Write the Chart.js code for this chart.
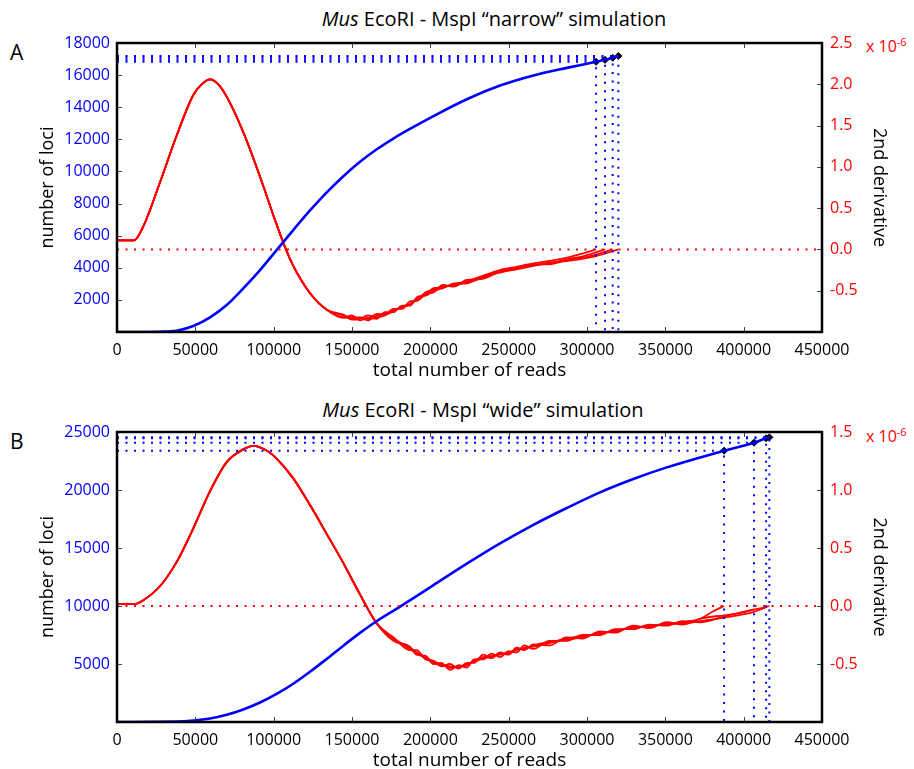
<!DOCTYPE html>
<html>
<head>
<meta charset="utf-8">
<script src="https://cdn.jsdelivr.net/npm/chart.js@4"></script>
<style>
body { margin: 0; background: #fff; width: 914px; height: 769px; overflow: hidden; position: relative; font-family: "Open Sans"; }
canvas { position: absolute; left: 0; }
.title { position: absolute; font-size: 20px; color: #000; white-space: nowrap; transform: translate(-50%, -50%); }
.panel { position: absolute; font-size: 21px; color: #000; }
.exp { position: absolute; color: #f00; font-size: 16px; white-space: nowrap; }
.exp sup { font-size: 11px; }
</style>
</head>
<body>
<div class="title" style="left:494px; top:18px;"><i>Mus</i> EcoRI - MspI “narrow” simulation</div>
<div class="title" style="left:483px; top:409px;"><i>Mus</i> EcoRI - MspI “wide” simulation</div>
<div class="panel" style="left:10px; top:38px;">A</div>
<div class="panel" style="left:10px; top:427px;">B</div>
<div class="exp" style="left:866px; top:34px;">x 10<sup>-6</sup></div>
<div class="exp" style="left:866px; top:424px;">x 10<sup>-6</sup></div>
<canvas id="chartA" width="914" height="385" style="top:0px"></canvas>
<canvas id="chartB" width="914" height="385" style="top:390px"></canvas>
<script>
// ---- panel A: "narrow" simulation ----
var readsA = [0, 27400, 38100, 48700, 59400, 70000, 80600, 91300, 101900, 112500, 123200, 133900, 144500, 155100, 165800, 176400, 187000, 202000, 223300, 244500, 265800, 287100, 305800, 311500, 316400, 320000];
var lociA = [0, 20, 80, 370, 910, 1680, 2720, 3860, 5100, 6350, 7570, 8700, 9700, 10600, 11380, 12050, 12650, 13450, 14500, 15350, 15980, 16450, 16830, 16950, 17080, 17190];

var endReadsA = [305800, 311500, 316400, 320000];
var endLociA = [16830, 16950, 17080, 17190];

// shared start of the 2nd derivative curves (x 1e-6)
var derivHeadA = [[0, 0.11], [10800, 0.11], [16800, 0.28], [27400, 0.81], [38100, 1.38], [48700, 1.87], [54000, 2.0], [59400, 2.06], [64700, 2.0], [70000, 1.85], [80600, 1.42], [91300, 0.88], [101900, 0.30], [107200, 0.03], [112500, -0.2], [123200, -0.53], [133900, -0.73]];
// noisy tails, one per replicate
var derivTailA1 = [[144500, -0.80], [150000, -0.84], [155100, -0.82], [160000, -0.86], [165800, -0.80], [171000, -0.78], [176400, -0.74], [182000, -0.70], [187000, -0.66], [192000, -0.60], [197000, -0.52], [202000, -0.49], [208000, -0.45], [215000, -0.44], [223300, -0.39], [232000, -0.33], [244500, -0.25], [255000, -0.21], [265800, -0.17], [276000, -0.14], [287100, -0.10], [297000, -0.05], [305800, 0.0]];
var derivTailA2 = [[144500, -0.82], [150000, -0.80], [155100, -0.86], [160000, -0.83], [165800, -0.84], [171000, -0.76], [176400, -0.76], [182000, -0.68], [187000, -0.68], [192000, -0.57], [197000, -0.56], [202000, -0.50], [208000, -0.47], [215000, -0.41], [223300, -0.40], [232000, -0.35], [244500, -0.26], [255000, -0.22], [265800, -0.19], [276000, -0.17], [287100, -0.12], [298000, -0.08], [311500, 0.0]];
var derivTailA3 = [[144500, -0.79], [150000, -0.85], [155100, -0.84], [160000, -0.80], [165800, -0.82], [171000, -0.80], [176400, -0.72], [182000, -0.72], [187000, -0.63], [192000, -0.62], [197000, -0.54], [202000, -0.52], [208000, -0.43], [215000, -0.45], [223300, -0.37], [232000, -0.36], [244500, -0.27], [255000, -0.23], [265800, -0.18], [276000, -0.18], [287100, -0.13], [300000, -0.09], [316400, 0.0]];
var derivTailA4 = [[144500, -0.83], [150000, -0.82], [155100, -0.83], [160000, -0.84], [165800, -0.78], [171000, -0.79], [176400, -0.75], [182000, -0.69], [187000, -0.67], [192000, -0.59], [197000, -0.55], [202000, -0.47], [208000, -0.46], [215000, -0.42], [223300, -0.41], [232000, -0.34], [244500, -0.28], [255000, -0.24], [265800, -0.20], [276000, -0.16], [287100, -0.14], [305800, -0.08], [320000, 0.0]];

// ---- panel B: "wide" simulation ----
var readsB = [0, 38100, 48700, 59400, 70000, 80600, 91300, 101900, 112500, 123200, 133900, 144500, 155100, 164700, 180700, 202000, 223300, 244500, 265800, 287100, 308300, 329600, 350900, 372200, 387500, 406600, 414300, 416400];
var lociB = [0, 30, 120, 300, 620, 1080, 1680, 2420, 3300, 4330, 5440, 6580, 7680, 8600, 9950, 11800, 13650, 15400, 17000, 18450, 19800, 20950, 21950, 22800, 23390, 24080, 24460, 24540];

var endReadsB = [387500, 406600, 414300, 416400];
var endLociB = [23390, 24080, 24460, 24540];

var derivHeadB = [[0, 0.017], [11500, 0.017], [16800, 0.05], [27400, 0.17], [38100, 0.38], [48700, 0.67], [59400, 0.99], [70000, 1.24], [80600, 1.35], [87000, 1.38], [95500, 1.34], [101900, 1.27], [112500, 1.10], [123200, 0.87], [133900, 0.62], [144500, 0.37], [155100, 0.10], [165800, -0.15]];
var derivTailB1 = [[176400, -0.28], [187000, -0.36], [191300, -0.40], [197000, -0.44], [202000, -0.48], [207000, -0.50], [212600, -0.53], [218000, -0.52], [223300, -0.51], [228000, -0.47], [233800, -0.44], [239000, -0.43], [244500, -0.42], [250000, -0.40], [255000, -0.38], [260000, -0.36], [265800, -0.35], [276000, -0.32], [287100, -0.28], [297000, -0.26], [308300, -0.24], [318000, -0.21], [329600, -0.19], [340000, -0.17], [350900, -0.16], [361000, -0.14], [372200, -0.11], [380000, -0.05], [387500, 0.0]];
var derivTailB2 = [[176400, -0.27], [187000, -0.38], [191300, -0.38], [197000, -0.46], [202000, -0.47], [207000, -0.52], [212600, -0.50], [218000, -0.54], [223300, -0.49], [228000, -0.49], [233800, -0.42], [239000, -0.45], [244500, -0.40], [250000, -0.42], [255000, -0.36], [260000, -0.38], [265800, -0.33], [276000, -0.34], [287100, -0.27], [297000, -0.28], [308300, -0.22], [318000, -0.23], [329600, -0.17], [340000, -0.19], [350900, -0.14], [361000, -0.16], [372200, -0.11], [387500, -0.08], [398000, -0.06], [406600, -0.03]];
var derivTailB3 = [[176400, -0.30], [187000, -0.35], [191300, -0.42], [197000, -0.43], [202000, -0.50], [207000, -0.49], [212600, -0.55], [218000, -0.51], [223300, -0.53], [228000, -0.46], [233800, -0.46], [239000, -0.41], [244500, -0.44], [250000, -0.39], [255000, -0.40], [260000, -0.34], [265800, -0.37], [276000, -0.30], [287100, -0.30], [297000, -0.25], [308300, -0.25], [318000, -0.20], [329600, -0.20], [340000, -0.16], [350900, -0.17], [361000, -0.13], [372200, -0.14], [387500, -0.09], [400000, -0.05], [414300, -0.01]];
var derivTailB4 = [[176400, -0.29], [187000, -0.37], [191300, -0.41], [197000, -0.45], [202000, -0.49], [207000, -0.51], [212600, -0.52], [218000, -0.53], [223300, -0.50], [228000, -0.48], [233800, -0.45], [239000, -0.44], [244500, -0.41], [250000, -0.41], [255000, -0.37], [260000, -0.37], [265800, -0.34], [276000, -0.31], [287100, -0.29], [297000, -0.27], [308300, -0.23], [318000, -0.22], [329600, -0.18], [340000, -0.18], [350900, -0.15], [361000, -0.15], [372200, -0.13], [387500, -0.10], [406600, -0.05], [416400, 0.0]];

var blue = "#0000ff";
var red = "#ff0000";

function toPoints(pairs) {
	return pairs.map(function (p) { return { x: p[0], y: p[1] }; });
}

// draws the black frame and the inward tick marks
var framePlugin = {
	id: "frame",
	afterDatasetsDraw: function (chart) {
		var ctx = chart.ctx;
		var a = chart.chartArea;
		var s = chart.scales;
		ctx.save();
		ctx.strokeStyle = "#444";
		ctx.lineWidth = 1;
		ctx.beginPath();
		s.x.ticks.forEach(function (t) {
			var px = Math.round(s.x.getPixelForValue(t.value)) + 0.5;
			ctx.moveTo(px, a.bottom); ctx.lineTo(px, a.bottom - 5);
			ctx.moveTo(px, a.top); ctx.lineTo(px, a.top + 5);
		});
		s.yL.ticks.forEach(function (t) {
			var py = Math.round(s.yL.getPixelForValue(t.value)) + 0.5;
			ctx.moveTo(a.left, py); ctx.lineTo(a.left + 5, py);
		});
		s.yR.ticks.forEach(function (t) {
			var py = Math.round(s.yR.getPixelForValue(t.value)) + 0.5;
			ctx.moveTo(a.right, py); ctx.lineTo(a.right - 5, py);
		});
		ctx.stroke();
		ctx.strokeStyle = "#000";
		ctx.lineWidth = 2.5;
		ctx.strokeRect(a.left, a.top, a.right - a.left, a.bottom - a.top);
		ctx.restore();
	}
};

function makeChart(id, topPad, reads, loci, endReads, endLoci, head, tails, leftMax, leftStep, rightMax) {
	var datasets = [];
	// red zero line
	datasets.push({
		data: [{ x: 0, y: 0 }, { x: 450000, y: 0 }],
		yAxisID: "yR", borderColor: red, borderWidth: 2, borderDash: [2, 6.5], pointRadius: 0
	});
	// blue dotted guides for each replicate end
	for (var i = 0; i < endReads.length; i++) {
		datasets.push({
			data: [{ x: 0, y: endLoci[i] }, { x: endReads[i], y: endLoci[i] }, { x: endReads[i], y: 0 }],
			yAxisID: "yL", borderColor: blue, borderWidth: 2, borderDash: [2, 6.5], pointRadius: 0
		});
	}
	// number of loci
	datasets.push({
		data: reads.map(function (r, k) { return { x: r, y: loci[k] }; }),
		yAxisID: "yL", borderColor: blue, borderWidth: 2.6, pointRadius: 0, cubicInterpolationMode: "monotone"
	});
	// 2nd derivative replicates
	tails.forEach(function (tail) {
		datasets.push({
			data: toPoints(head.concat(tail)),
			yAxisID: "yR", borderColor: red, borderWidth: 1.8, pointRadius: 0, cubicInterpolationMode: "monotone"
		});
	});
	// replicate end markers
	datasets.push({
		data: endReads.map(function (r, k) { return { x: r, y: endLoci[k] }; }),
		yAxisID: "yL", showLine: false, pointStyle: "rectRot", pointRadius: 3.5,
		pointBackgroundColor: "#000", pointBorderColor: "#000"
	});

	var tickFont = { family: "Open Sans", size: 16 };
	var titleFont = { family: "Open Sans", size: 18 };

	return new Chart(document.getElementById(id), {
		type: "line",
		data: { datasets: datasets },
		options: {
			responsive: false,
			animation: false,
			devicePixelRatio: 1,
			layout: { padding: { top: topPad, left: 0, right: 0, bottom: 0 } },
			plugins: { legend: { display: false }, tooltip: { enabled: false } },
			scales: {
				x: {
					type: "linear", min: 0, max: 450000,
					grid: { display: false, drawTicks: false },
					border: { display: false },
					ticks: {
						stepSize: 50000, autoSkip: false, maxRotation: 0, padding: 9,
						color: "#000", font: tickFont,
						callback: function (v) { return String(v); }
					},
					title: { display: true, text: "total number of reads", color: "#000", font: { family: "Open Sans", size: 19 }, padding: { top: 0, bottom: 3 } },
					afterFit: function (scale) { scale.height = 53; }
				},
				yL: {
					type: "linear", position: "left", min: 0, max: leftMax,
					grid: { display: false, drawTicks: false },
					border: { display: false },
					ticks: {
						stepSize: leftStep, padding: 7, color: blue, font: tickFont,
						callback: function (v) { return v === 0 ? "" : String(v); }
					},
					title: { display: true, text: "number of loci", color: "#000", font: titleFont, padding: { top: 37, bottom: 0 } },
					afterFit: function (scale) { scale.width = 117; }
				},
				yR: {
					type: "linear", position: "right", min: -1, max: rightMax,
					grid: { display: false, drawTicks: false },
					border: { display: false },
					ticks: {
						stepSize: 0.5, padding: 8, color: red, font: tickFont,
						callback: function (v) { return v === -1 ? "" : v.toFixed(1); }
					},
					title: { display: true, text: "2nd derivative", color: "#000", font: titleFont, padding: { top: 24, bottom: 0 } },
					afterFit: function (scale) { scale.width = 92; }
				}
			}
		},
		plugins: [framePlugin]
	});
}

var chartA = makeChart("chartA", 43, readsA, lociA, endReadsA, endLociA, derivHeadA,
	[derivTailA1, derivTailA2, derivTailA3, derivTailA4], 18000, 2000, 2.5);
var chartB = makeChart("chartB", 42, readsB, lociB, endReadsB, endLociB, derivHeadB,
	[derivTailB1, derivTailB2, derivTailB3, derivTailB4], 25000, 5000, 1.5);
</script>
</body>
</html>
